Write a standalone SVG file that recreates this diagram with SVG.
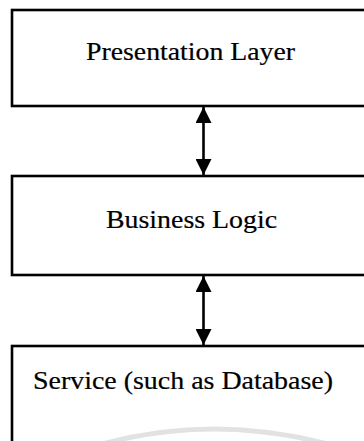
<svg xmlns="http://www.w3.org/2000/svg" width="364" height="441" viewBox="0 0 364 441">
<style>
.box{fill:#fff;stroke:#000;stroke-width:2.6}
.lbl{font-family:"Liberation Serif","Times New Roman",serif;font-size:25px;fill:#000;stroke:#000;stroke-width:0.2}
.con{stroke:#000;stroke-width:2.6;fill:none}
.wm{fill:none;stroke:#e2e2e2;stroke-width:5}
</style>
<defs>
<marker id="ah" viewBox="0 0 16 16" refX="16" refY="8" markerWidth="16" markerHeight="16" markerUnits="userSpaceOnUse" orient="auto-start-reverse">
<path d="M0,0 L16,8 L0,16 Z" fill="#000"/>
</marker>
</defs>
<rect width="364" height="441" fill="#fff"/>
<g id="presentation">
<rect class="box" x="12" y="10" width="370" height="96"/>
<text class="lbl" x="86" y="60" textLength="209" lengthAdjust="spacingAndGlyphs">Presentation Layer</text>
</g>
<g id="business">
<rect class="box" x="12" y="176" width="370" height="99"/>
<text class="lbl" x="106" y="228" textLength="171" lengthAdjust="spacingAndGlyphs">Business Logic</text>
</g>
<g id="service">
<rect class="box" x="12" y="346" width="370" height="110"/>
<text class="lbl" x="33" y="389" textLength="300" lengthAdjust="spacingAndGlyphs" fill="#222" stroke="#222">Service (such as Database)</text>
</g>
<path class="wm" d="M95,446 Q213,412 335,446"/>
<g id="connectors">
<line class="con" x1="203.5" y1="107" x2="203.5" y2="175" marker-start="url(#ah)" marker-end="url(#ah)"/>
<line class="con" x1="203.5" y1="276" x2="203.5" y2="345" marker-start="url(#ah)" marker-end="url(#ah)"/>
</g>
</svg>
